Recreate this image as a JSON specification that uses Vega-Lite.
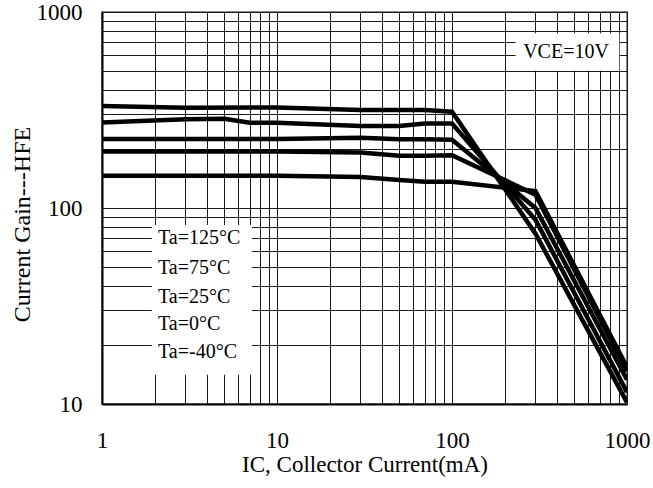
{
  "$schema": "https://vega.github.io/schema/vega-lite/v6.json",
  "autosize": {"type": "none"},
  "padding": {"left": 102, "top": 12, "right": 26, "bottom": 84},
  "width": 525,
  "height": 392,
  "background": "white",
  "config": {
    "font": "Liberation Serif",
    "view": {"stroke": "#8a8a8a", "strokeWidth": 2}
  },
  "datasets": {
    "curves": [
      {"series": "A", "ic": 1, "hfe": 331}, {"series": "A", "ic": 3, "hfe": 325}, {"series": "A", "ic": 10, "hfe": 326}, {"series": "A", "ic": 30, "hfe": 316}, {"series": "A", "ic": 70, "hfe": 316}, {"series": "A", "ic": 100, "hfe": 310}, {"series": "A", "ic": 300, "hfe": 74}, {"series": "A", "ic": 1000, "hfe": 10.2},
      {"series": "B", "ic": 1, "hfe": 273}, {"series": "B", "ic": 3, "hfe": 284}, {"series": "B", "ic": 5, "hfe": 285}, {"series": "B", "ic": 7, "hfe": 272}, {"series": "B", "ic": 10, "hfe": 272}, {"series": "B", "ic": 30, "hfe": 262}, {"series": "B", "ic": 50, "hfe": 262}, {"series": "B", "ic": 70, "hfe": 270}, {"series": "B", "ic": 100, "hfe": 270}, {"series": "B", "ic": 300, "hfe": 87}, {"series": "B", "ic": 1000, "hfe": 11.5},
      {"series": "C", "ic": 1, "hfe": 225}, {"series": "C", "ic": 3, "hfe": 225}, {"series": "C", "ic": 10, "hfe": 225}, {"series": "C", "ic": 30, "hfe": 228}, {"series": "C", "ic": 50, "hfe": 224}, {"series": "C", "ic": 70, "hfe": 224}, {"series": "C", "ic": 100, "hfe": 223}, {"series": "C", "ic": 300, "hfe": 100}, {"series": "C", "ic": 1000, "hfe": 13.3},
      {"series": "D", "ic": 1, "hfe": 194}, {"series": "D", "ic": 3, "hfe": 194}, {"series": "D", "ic": 10, "hfe": 194}, {"series": "D", "ic": 30, "hfe": 192}, {"series": "D", "ic": 50, "hfe": 185}, {"series": "D", "ic": 70, "hfe": 185}, {"series": "D", "ic": 100, "hfe": 186}, {"series": "D", "ic": 300, "hfe": 117}, {"series": "D", "ic": 1000, "hfe": 14.7},
      {"series": "E", "ic": 1, "hfe": 146}, {"series": "E", "ic": 3, "hfe": 146}, {"series": "E", "ic": 10, "hfe": 146}, {"series": "E", "ic": 30, "hfe": 144}, {"series": "E", "ic": 50, "hfe": 139}, {"series": "E", "ic": 70, "hfe": 136}, {"series": "E", "ic": 100, "hfe": 136}, {"series": "E", "ic": 300, "hfe": 122}, {"series": "E", "ic": 1000, "hfe": 15.4}
    ],
    "boxes": [
      {"ic": 1.93, "ic2": 7.2, "hfe": 14.1, "hfe2": 81.8},
      {"ic": 231, "ic2": 904, "hfe": 502, "hfe2": 778}
    ],
    "labels": [
      {"text": "Ta=125°C", "ic": 2.09, "hfe": 70.3},
      {"text": "Ta=75°C", "ic": 2.09, "hfe": 49.2},
      {"text": "Ta=25°C", "ic": 2.09, "hfe": 35.2},
      {"text": "Ta=0°C", "ic": 2.09, "hfe": 25.6},
      {"text": "Ta=-40°C", "ic": 2.09, "hfe": 18.5},
      {"text": "VCE=10V", "ic": 255, "hfe": 625}
    ]
  },
  "layer": [
    {
      "data": {"name": "curves"},
      "mark": {"type": "line", "color": "black", "strokeWidth": 4.5, "strokeJoin": "miter", "clip": true},
      "encoding": {
        "x": {
          "field": "ic", "type": "quantitative",
          "scale": {"type": "log", "domain": [1, 1000], "nice": false},
          "axis": {
            "title": "IC, Collector Current(mA)",
            "titleFont": "Liberation Serif", "titleFontSize": 23, "titleFontWeight": "normal", "titleColor": "black", "titlePadding": 1,
            "values": [1,2,3,4,5,6,7,8,9,10,20,30,40,50,60,70,80,90,100,200,300,400,500,600,700,800,900,1000],
            "labelExpr": "(datum.value == 1 || datum.value == 10 || datum.value == 100 || datum.value == 1000) ? '' + datum.value : ''",
            "labelFont": "Liberation Serif", "labelFontSize": 23, "labelColor": "black", "labelPadding": 25,
            "labelOverlap": false, "labelFlush": false,
            "ticks": false, "domain": true, "domainColor": "black", "domainWidth": 2,
            "grid": true, "gridColor": "#1a1a1a", "gridWidth": 1, "gridOpacity": 1
          }
        },
        "y": {
          "field": "hfe", "type": "quantitative",
          "scale": {"type": "log", "domain": [10, 1000], "nice": false},
          "axis": {
            "title": "Current Gain---HFE",
            "titleFont": "Liberation Serif", "titleFontSize": 24, "titleFontWeight": "normal", "titleColor": "black", "titlePadding": 2,
            "titleY": 212,
            "values": [10,20,30,40,50,60,70,80,90,100,200,300,400,500,600,700,800,900,1000],
            "labelExpr": "(datum.value == 10 || datum.value == 100 || datum.value == 1000) ? '' + datum.value : ''",
            "labelFont": "Liberation Serif", "labelFontSize": 23, "labelColor": "black", "labelPadding": 20,
            "labelOverlap": false, "labelFlush": false,
            "ticks": false, "domain": true, "domainColor": "black", "domainWidth": 2,
            "grid": true, "gridColor": "#1a1a1a", "gridWidth": 1, "gridOpacity": 1
          }
        },
        "detail": {"field": "series", "type": "nominal"}
      }
    },
    {
      "data": {"name": "boxes"},
      "mark": {"type": "rect", "color": "white", "opacity": 1},
      "encoding": {
        "x": {"field": "ic", "type": "quantitative"},
        "x2": {"field": "ic2"},
        "y": {"field": "hfe", "type": "quantitative"},
        "y2": {"field": "hfe2"}
      }
    },
    {
      "data": {"name": "labels"},
      "mark": {"type": "text", "align": "left", "baseline": "middle", "font": "Liberation Serif", "fontSize": 20, "color": "black"},
      "encoding": {
        "x": {"field": "ic", "type": "quantitative"},
        "y": {"field": "hfe", "type": "quantitative"},
        "text": {"field": "text", "type": "nominal"}
      }
    }
  ]
}
